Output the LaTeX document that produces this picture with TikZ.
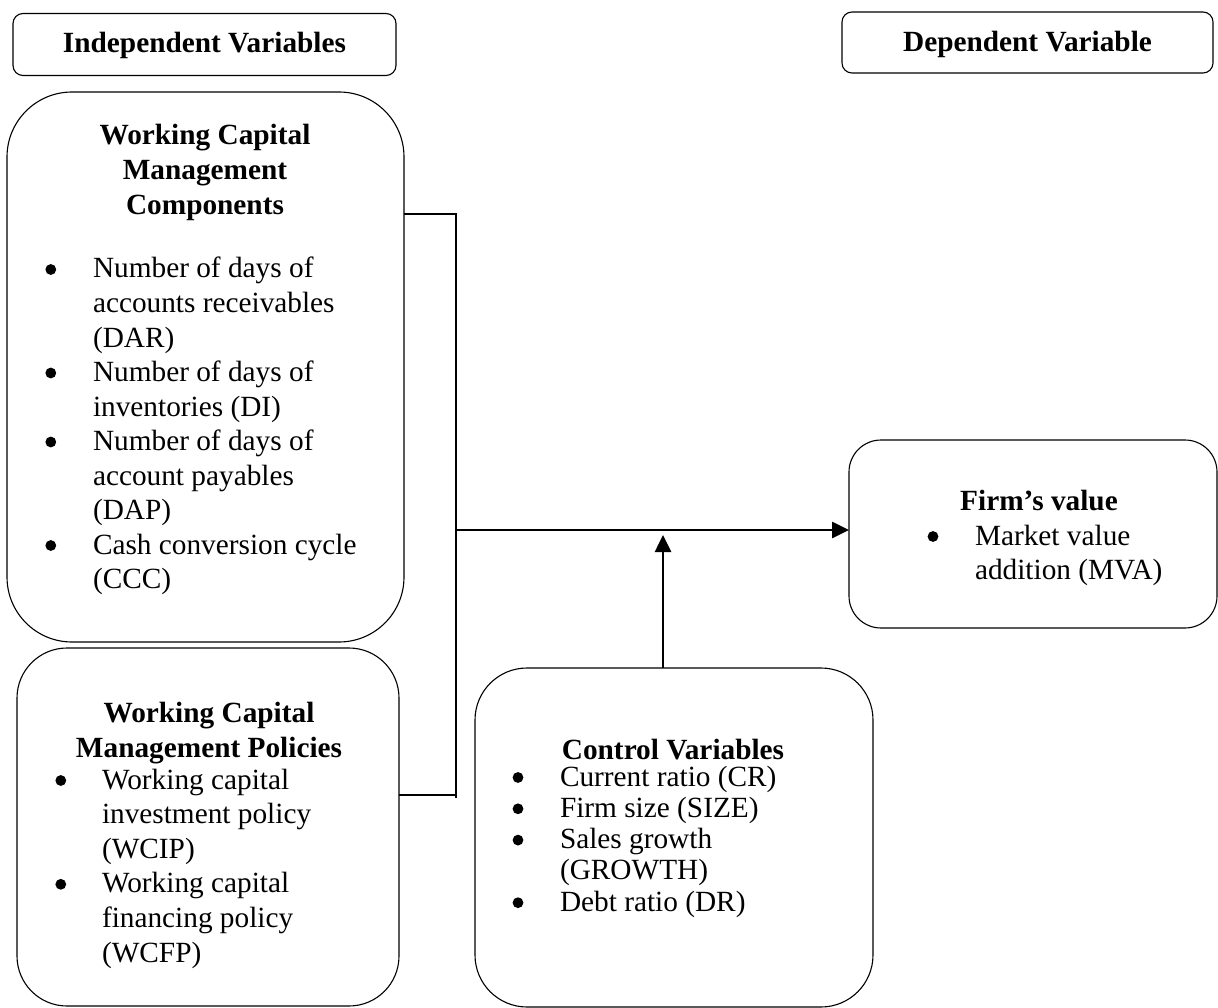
\documentclass[tikz,border=0pt]{standalone}
\usepackage{fontspec}
\setmainfont{Liberation Serif}
\usetikzlibrary{arrows.meta}
\newcommand\itemlines[5]{%
  \foreach \t [count=\i] in {#5}{\node[txt, anchor=base west] (#1\i) at (#2,{#3+(\i-1)*#4}) {\t};}}
\newcommand\bul[2]{\fill (#1,{#2-8.5}) circle (5.4pt);}
\begin{document}
\begin{tikzpicture}[x=1pt,y=-1pt,
  box/.style={draw, line width=1.1pt, inner sep=0pt, outer sep=0pt},
  txt/.style={inner sep=0pt, outer sep=0pt, font=\fontsize{29.3}{35}\selectfont},
  ttl/.style={inner sep=0pt, outer sep=0pt, font=\fontsize{29.3}{35}\selectfont\bfseries},
  conn/.style={line width=1.2pt},
  arr/.style={line width=2.6pt, -{Triangle[length=17pt,width=16pt]}}]
\useasboundingbox (0,0) rectangle (1218,1008);

% header boxes
\node[box, minimum width=383pt, minimum height=62pt, rounded corners=10pt] (indep) at (204.5,44.5) {};
\node[ttl, anchor=base] (indepT) at (204.5,53) {Independent Variables};
\node[box, minimum width=371pt, minimum height=61pt, rounded corners=10pt] (dep) at (1027.5,42.5) {};
\node[ttl, anchor=base] (depT) at (1027.5,52) {Dependent Variable};

% WCM components
\node[box, minimum width=397pt, minimum height=550pt, rounded corners=65pt] (comp) at (205.5,367) {};
\node[ttl, anchor=base] (compT1) at (205,145) {Working Capital};
\node[ttl, anchor=base] (compT2) at (205,180) {Management};
\node[ttl, anchor=base] (compT3) at (205,215) {Components};
\itemlines{c}{93}{278}{34.5}{Number of days of, accounts receivables, {(DAR)}, Number of days of, inventories (DI), Number of days of, account payables, {(DAP)}, Cash conversion cycle, {(CCC)}}
\bul{50.8}{278}
\bul{50.8}{381.5}
\bul{50.8}{450.5}
\bul{50.8}{554}

% WCM policies
\node[box, minimum width=382pt, minimum height=358pt, rounded corners=50pt] (pol) at (208,827) {};
\node[ttl, anchor=base] (polT1) at (209,722) {Working Capital};
\node[ttl, anchor=base] (polT2) at (209,757) {Management Policies};
\itemlines{p}{102}{789}{34.6}{Working capital, investment policy, {(WCIP)}, Working capital, financing policy, {(WCFP)}}
\bul{60.8}{789}
\bul{60.8}{892.8}

% Control variables
\node[box, minimum width=398pt, minimum height=339pt, rounded corners=52pt] (ctrl) at (674,837.5) {};
\node[ttl, anchor=base] (ctrlT) at (673,759) {Control Variables};
\itemlines{k}{560}{786}{31.3}{Current ratio (CR), Firm size (SIZE), Sales growth, {(GROWTH)}, Debt ratio (DR)}
\bul{518}{786}
\bul{518}{817.3}
\bul{518}{848.6}
\bul{518}{911.2}

% Firm's value
\node[box, minimum width=368pt, minimum height=188pt, rounded corners=32pt] (firm) at (1033,534) {};
\node[ttl, anchor=base] (firmT) at (1039,510) {Firm’s value};
\itemlines{f}{975}{545}{34}{Market value, addition (MVA)}
\bul{933}{545}

% connectors
\coordinate (jtop) at (456,214);
\coordinate (jbot) at (456,798);
\coordinate (jb) at (456,795);
\coordinate (jmid) at (456,530);
\coordinate (vtip) at (663,535);
\draw[conn] (comp.east |- jtop) -- (jtop) -- (jbot);
\draw[conn] (pol.east |- jb) -- (jb);
\draw[arr] (jmid) -- (firm.west |- jmid);
\draw[arr] (ctrl.north -| vtip) -- (vtip);
\end{tikzpicture}
\end{document}
